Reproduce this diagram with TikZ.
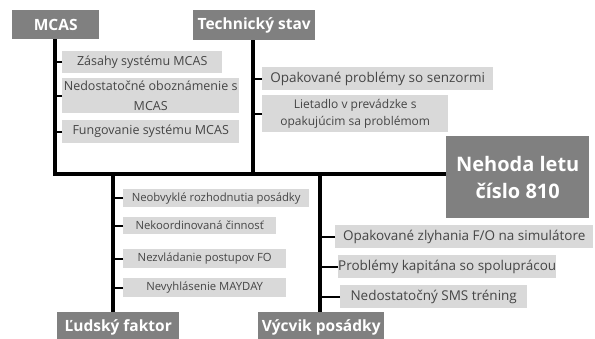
\documentclass[tikz,border=0pt]{standalone}
\usepackage{fontspec}
\setmainfont{Open Sans}
\definecolor{hdr}{HTML}{808080}
\definecolor{itm}{HTML}{D9D9D9}
\definecolor{txt}{HTML}{454545}
\tikzset{
  hdrbox/.style={fill=hdr, text=white, font=\bfseries\fontsize{15.5}{18}\selectfont, inner sep=0pt, anchor=north west, align=center},
  itembox/.style={fill=itm, text=txt, inner sep=0pt, anchor=north west, align=center},
  spine/.style={line width=3.5pt, black},
  tickln/.style={line width=2pt, black}
}
\begin{document}
\begin{tikzpicture}[x=1pt,y=-1pt]
\useasboundingbox (0,0) rectangle (595,338);
% headers
\node[hdrbox, minimum width=87pt, minimum height=29pt] (mcas) at (12,10) {MCAS};
\node[hdrbox, minimum width=122pt, minimum height=30pt] (tech) at (193,10) {Technický stav};
\node[hdrbox, minimum width=143pt, minimum height=82pt, font=\bfseries\fontsize{20}{27}\selectfont] (neh) at (446,136) {Nehoda letu\\číslo 810};
\node[hdrbox, minimum width=122pt, minimum height=30pt] (lud) at (57,312) {Ľudský faktor};
\node[hdrbox, minimum width=126pt, minimum height=30pt] (vyc) at (258,312) {Výcvik posádky};
% line coordinates
\coordinate (ml) at (55,174);
\coordinate (tl) at (253,174);
\coordinate (ll) at (113,174);
\coordinate (vl) at (320,174);
% spine and branches
\draw[spine] (mcas.south -| ml) -- (ml) -- (neh.west |- ml);
\draw[spine] (tech.south -| tl) -- (tl);
\draw[spine] (ll) -- (lud.north -| ll);
\draw[spine] (vl) -- (vyc.north -| vl);
% MCAS items
\node[itembox, minimum width=160pt, minimum height=22pt, font=\fontsize{12.5}{15}\selectfont] (a1) at (62,51) {Zásahy systému MCAS};
\node[itembox, minimum width=177pt, minimum height=35pt, font=\fontsize{12.5}{20}\selectfont] (a2) at (62,78) {Nedostatočné oboznámenie s\\MCAS};
\node[itembox, minimum width=177pt, minimum height=23pt, font=\fontsize{12.5}{15}\selectfont] (a3) at (62,120) {Fungovanie systému MCAS};
% Technical items
\node[itembox, minimum width=231pt, minimum height=23pt, font=\fontsize{13.5}{16}\selectfont] (b1) at (262,67) {Opakované problémy so senzormi};
\node[itembox, minimum width=186pt, minimum height=37pt, font=\fontsize{12}{16.5}\selectfont] (b2) at (262,95) {Lietadlo v prevádzke s\\opakujúcim sa problémom};
% Human factor items
\node[itembox, minimum width=186pt, minimum height=18pt, font=\fontsize{11.3}{13}\selectfont] (c1) at (123,189) {Neobvyklé rozhodnutia posádky};
\node[itembox, minimum width=153pt, minimum height=17pt, font=\fontsize{11.3}{13}\selectfont] (c2) at (123,217) {Nekoordinovaná činnosť};
\node[itembox, minimum width=163pt, minimum height=19pt, font=\fontsize{11.3}{13}\selectfont] (c3) at (123,249) {Nezvládanie postupov FO};
\node[itembox, minimum width=163pt, minimum height=19pt, font=\fontsize{11.3}{13}\selectfont] (c4) at (123,278) {Nevyhlásenie MAYDAY};
% Training items
\node[itembox, minimum width=258pt, minimum height=23pt, font=\fontsize{13.5}{16}\selectfont] (d1) at (335,225) {Opakované zlyhania F/O na simulátore};
\node[itembox, minimum width=199pt, minimum height=23pt, font=\fontsize{13.5}{16}\selectfont] (d2) at (338,255) {Problémy kapitána so spoluprácou};
\node[itembox, minimum width=187pt, minimum height=23pt, font=\fontsize{13.5}{16}\selectfont] (d3) at (340,285) {Nedostatočný SMS tréning};
% ticks
\foreach \n in {a1,a2,a3} \draw[tickln] (\n.west) -- (\n.west -| ml);
\foreach \n in {b1,b2} \draw[tickln] (\n.west) -- (\n.west -| tl);
\foreach \n in {c1,c2,c3,c4} \draw[tickln] (\n.west) -- (\n.west -| ll);
\foreach \n in {d1,d2,d3} \draw[tickln] (\n.west) -- (\n.west -| vl);
\end{tikzpicture}
\end{document}
